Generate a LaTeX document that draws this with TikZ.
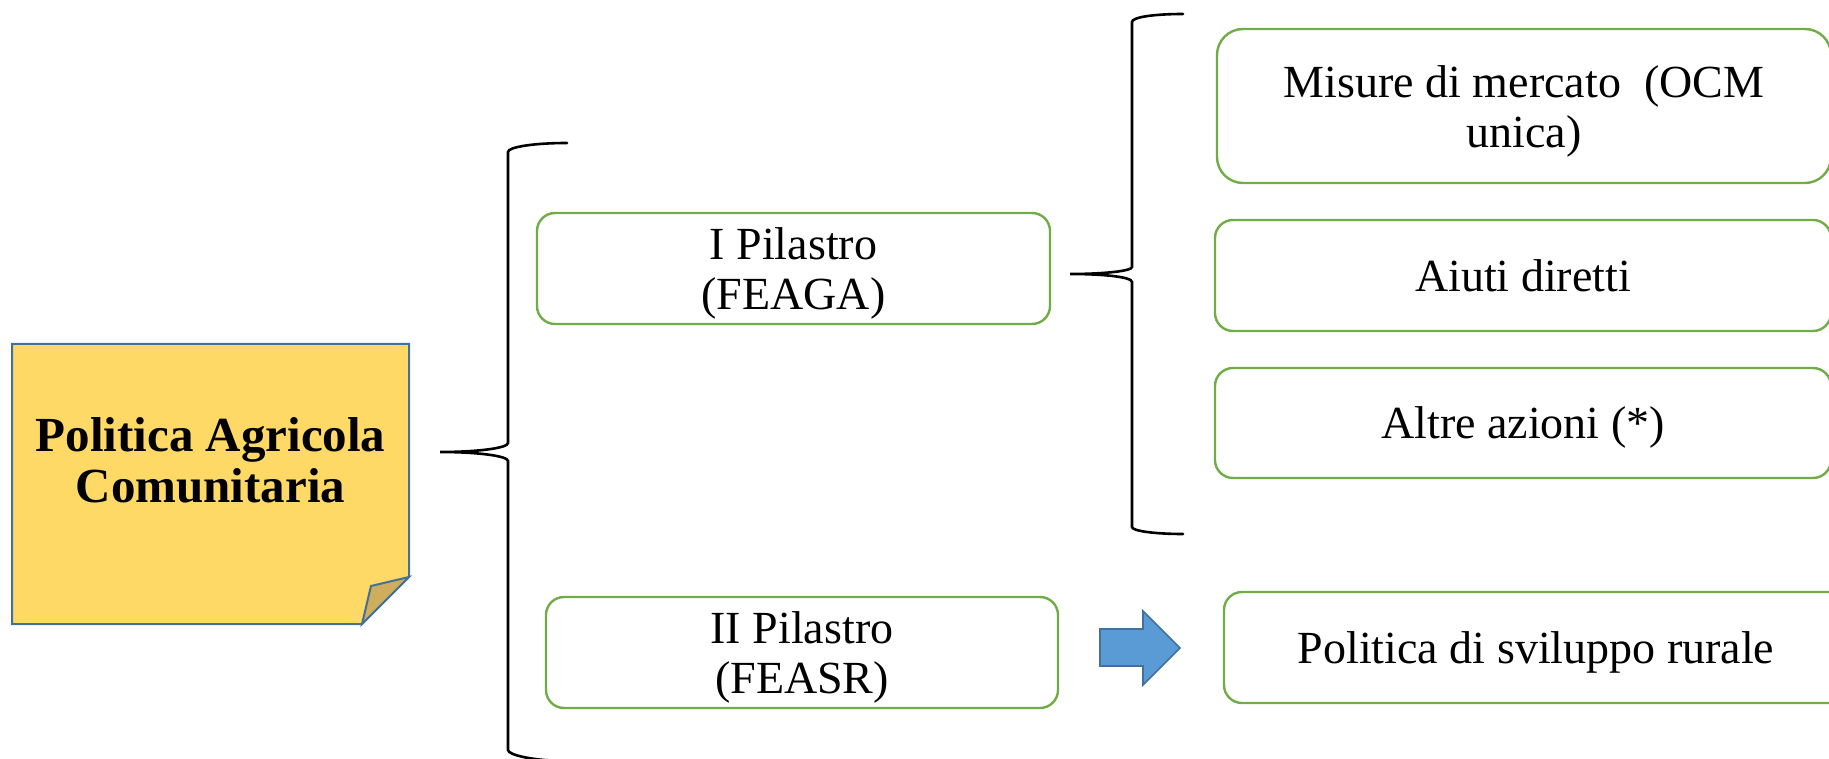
\documentclass[tikz,border=0pt]{standalone}
\usepackage{fontspec}
\setmainfont{Liberation Serif}
\definecolor{boxgreen}{HTML}{70AD47}
\definecolor{notefill}{HTML}{FFD966}
\definecolor{noteline}{HTML}{41719C}
\definecolor{foldfill}{HTML}{CEAE5C}
\definecolor{arrowfill}{HTML}{5B9BD5}
\begin{document}
\begin{tikzpicture}[x=1pt,y=-1pt,
  box/.style={draw=boxgreen, line width=2.4pt, rounded corners=18pt, inner sep=0pt},
  bigbox/.style={box, rounded corners=26pt},
  txt/.style={align=center, inner sep=0pt, font=\fontsize{46}{50}\selectfont},
  brace/.style={draw=black, line width=2.6pt, line cap=round},
  notetext/.style={align=center, inner sep=0pt,
    font=\fontsize{49}{51}\selectfont\bfseries},
]
\useasboundingbox (0,0) rectangle (1829,759);
\clip (0,0) rectangle (1829,759);

% sticky note with folded corner
\draw[fill=notefill, draw=noteline, line width=2pt, line join=miter]
  (12,344) -- (409,344) -- (409,577) -- (362,624) -- (12,624) -- cycle;
\draw[fill=foldfill, draw=noteline, line width=2pt, line join=miter]
  (409,577) -- (371,586) -- (362,624) -- cycle;
\node[notetext] (pac) at (210.5,460) {Politica Agricola\\Comunitaria};

% the two pillars
\node[box, minimum width=513pt, minimum height=111pt] (p1) at (793.5,268.5) {};
\node[txt, yshift=-5pt] (p1t) at (p1) {I Pilastro\\(FEAGA)};
\node[box, minimum width=512pt, minimum height=111pt] (p2) at (802,652.5) {};
\node[txt, yshift=-5pt] (p2t) at (p2) {II Pilastro\\(FEASR)};

% first pillar measures
\node[bigbox, minimum width=614pt, minimum height=154pt] (ma) at (1524,106) {};
\node[txt, yshift=-5pt] (mat) at (ma) {Misure di mercato~ (OCM\\unica)};
\node[box, minimum width=616pt, minimum height=111pt] (mb) at (1523,275.5) {};
\node[txt] (mbt) at (mb) {Aiuti diretti};
\node[box, minimum width=616pt, minimum height=110pt] (mc) at (1523,423) {};
\node[txt, yshift=-4pt] (mct) at (mc) {Altre azioni (*)};

% second pillar policy
\node[box, minimum width=624pt, minimum height=111pt] (rur) at (1536,647.5) {};
\node[txt, yshift=-5pt] (rurt) at (rur) {Politica di sviluppo rurale};

% brace from the note to the pillars
\coordinate (b1tip) at (440,452);
\draw[brace] (567,143) .. controls (534,143) and (508,147) .. (508,152)
  -- (508,443) .. controls (508,448) and (478,452) .. (b1tip)
  .. controls (478,452) and (508,456) .. (508,461)
  -- (508,750) .. controls (508,755) and (534,761) .. (567,761);

% brace from the first pillar to its measures
\coordinate (b2tip) at (1070,274);
\draw[brace] (1183,14) .. controls (1155,14) and (1132,17) .. (1132,22)
  -- (1132,267) .. controls (1132,271) and (1104,274) .. (b2tip)
  .. controls (1104,274) and (1132,277) .. (1132,282)
  -- (1132,527) .. controls (1132,531) and (1155,534) .. (1183,534);

% block arrow between the second pillar and rural development
\draw[fill=arrowfill, draw=noteline, line width=1.6pt, line join=miter]
  (1100,629) -- (1143,629) -- (1143,611) -- (1180,648) -- (1143,685)
  -- (1143,666) -- (1100,666) -- cycle;
\end{tikzpicture}
\end{document}
